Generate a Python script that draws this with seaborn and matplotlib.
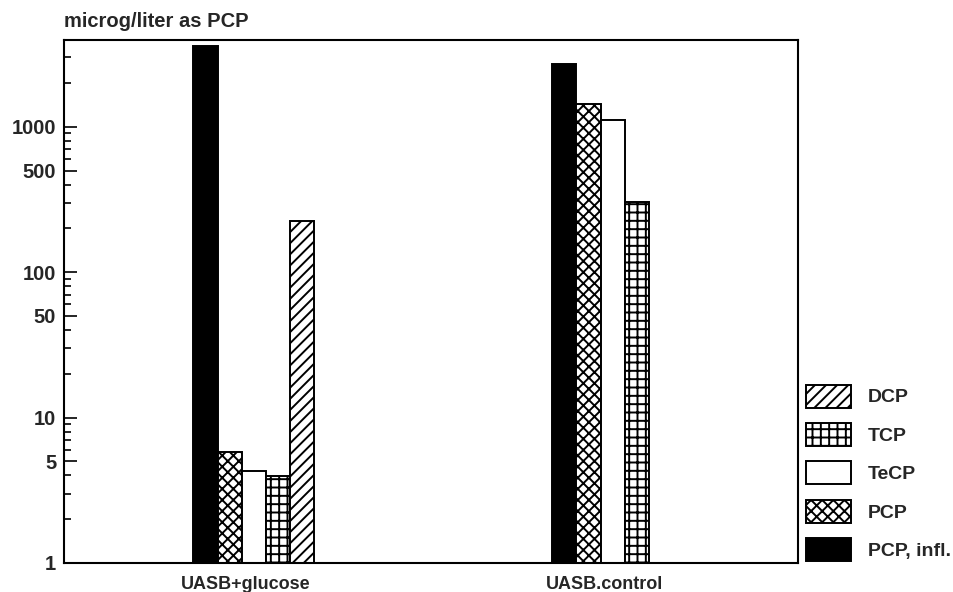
import numpy as np
import pandas as pd
import matplotlib
matplotlib.use("Agg")
import matplotlib.pyplot as plt
from matplotlib.patches import Patch
from matplotlib.ticker import FixedLocator, NullFormatter
from matplotlib.transforms import ScaledTranslation
import seaborn as sns

# Reactors and chlorophenol species
reactors = ["UASB+glucose", "UASB.control"]
compounds = ["PCP, infl.", "PCP", "TeCP", "TCP", "DCP"]

# Concentrations (microg/liter as PCP); DCP not detected in the control
glucose_conc = [3580, 5.8, 4.3, 3.95, 225]
control_conc = [2690, 1430, 1120, 305, np.nan]

# Y-axis ticks
major_ticks = [1, 5, 10, 50, 100, 500, 1000]
tick_labels = ["1", "5", "10", "50", "100", "500", "1000"]

face = {"PCP, infl.": "black", "PCP": "white", "TeCP": "white",
        "TCP": "white", "DCP": "white"}
hatch = {"PCP, infl.": "", "PCP": "xxx", "TeCP": "", "TCP": "++", "DCP": "///"}

rows = []
for reactor, vals in zip(reactors, [glucose_conc, control_conc]):
    for comp, v in zip(compounds, vals):
        if not np.isnan(v):
            rows.append({"reactor": reactor, "compound": comp, "conc": v})
df = pd.DataFrame(rows)

sns.set_style("ticks")
plt.rcParams["font.family"] = ["Liberation Sans", "DejaVu Sans"]
plt.rcParams["font.weight"] = "bold"
plt.rcParams["hatch.linewidth"] = 1.4

fig = plt.figure(figsize=(9.54, 5.92), dpi=100)
ax = fig.add_axes([64.5 / 954, 1 - 563 / 592, 733 / 954, 523 / 592])

sns.barplot(data=df, x="reactor", y="conc", hue="compound",
            order=reactors, hue_order=compounds, palette=face,
            width=0.337, edgecolor="black", linewidth=1.4,
            legend=False, ax=ax)

for comp, cont in zip(compounds, ax.containers):
    for bar in cont:
        bar.set_hatch(hatch[comp])
        bar.set_edgecolor("black")

ax.set_yscale("log")
ax.set_ylim(1, 3950)
ax.set_xlim(-0.5276, 1.515)

minor = [k * 10 ** n for n in range(0, 4) for k in (2, 3, 4, 6, 7, 8, 9)
         if k * 10 ** n < 3950]
ax.yaxis.set_major_locator(FixedLocator(major_ticks))
ax.set_yticklabels(tick_labels)
ax.yaxis.set_minor_locator(FixedLocator(minor))
ax.yaxis.set_minor_formatter(NullFormatter())
ax.tick_params(axis="y", which="major", direction="in", length=9.4,
               width=1.2, pad=6, labelsize=14.5, color="black")
ax.tick_params(axis="y", which="minor", direction="in", length=5.2,
               width=1.2, color="black")
ax.tick_params(axis="x", length=0, pad=9.5, labelsize=13)
shift = ScaledTranslation(-8.5 / 100, 0, fig.dpi_scale_trans)
for lab in ax.get_xticklabels():
    lab.set_fontweight("bold")
    lab.set_transform(lab.get_transform() + shift)
for lab in ax.get_yticklabels():
    lab.set_fontweight("bold")

ax.set_xlabel("")
ax.set_ylabel("")
for sp in ax.spines.values():
    sp.set_visible(True)
    sp.set_linewidth(1.5)
    sp.set_color("black")

fig.text(64.5 / 954, 1 - 27 / 592, "microg/liter as PCP", fontsize=14.5,
         fontweight="bold", ha="left", va="baseline")

legend_order = ["DCP", "TCP", "TeCP", "PCP", "PCP, infl."]
handles = [Patch(facecolor=face[c], edgecolor="black", hatch=hatch[c],
                 linewidth=1.4, label=c) for c in legend_order]
fig.legend(handles=handles, loc="lower left",
           bbox_to_anchor=(805.7 / 954, 1 - 561 / 592),
           frameon=False, handlelength=2.35,
           handleheight=1.443, handletextpad=0.85, labelspacing=0.79,
           borderpad=0, borderaxespad=0,
           prop={"weight": "bold", "size": 14})

fig.savefig("out.png", dpi=100)
